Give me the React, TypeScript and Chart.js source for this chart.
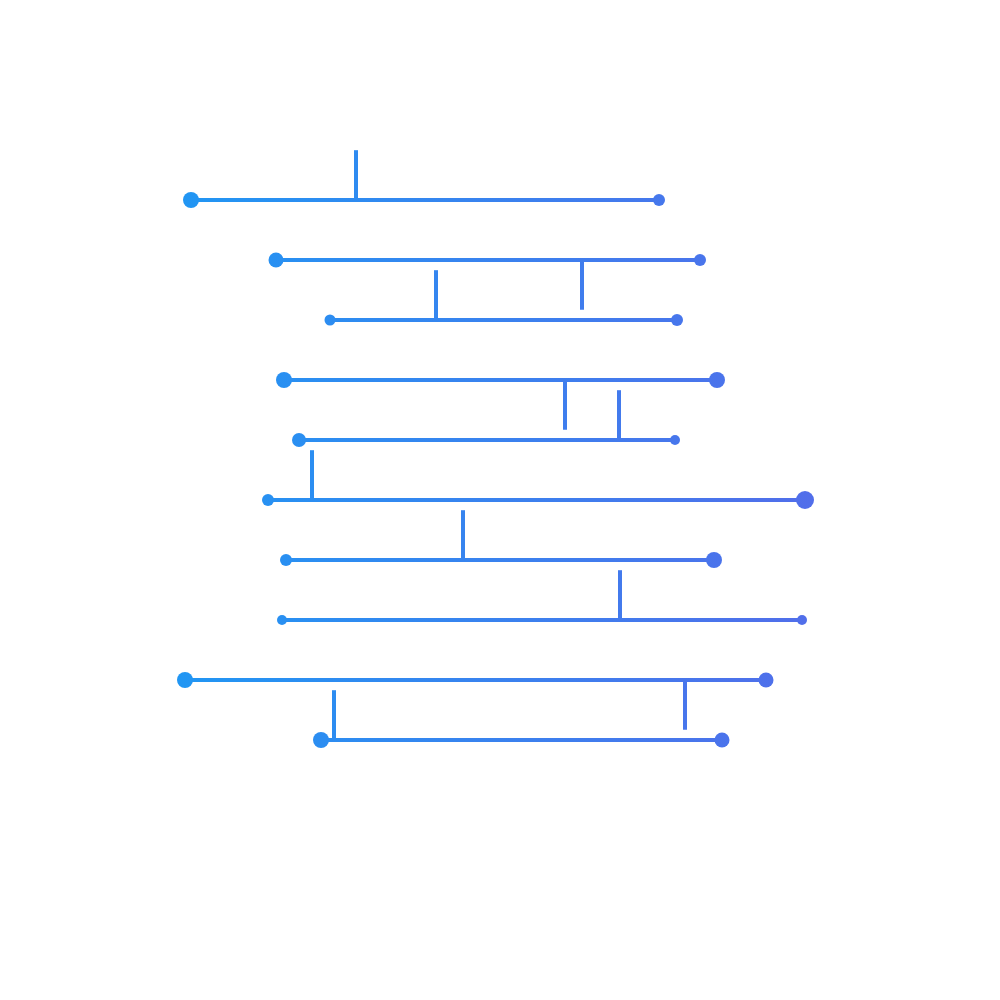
import React, { useEffect, useRef } from "react";
import Chart, { ChartConfiguration } from "chart.js/auto";

// one entry per horizontal rail, top to bottom
const rows = [1, 2, 3, 4, 5, 6, 7, 8, 9, 10];
const railStart = [19.1, 27.6, 33.0, 28.4, 29.9, 26.8, 28.6, 28.2, 18.5, 32.1];
const railEnd = [65.9, 70.0, 67.7, 71.7, 67.5, 80.5, 71.4, 80.2, 76.6, 72.2];
const startDot = [8, 7.5, 5.5, 8, 7, 6, 6, 5, 8, 8];
const endDot = [6, 6, 6, 8, 5, 9, 8, 5, 7.5, 7.5];
// vertical stub on each rail: x position and direction (1 = up, -1 = down)
const stubX = [35.6, 58.2, 43.6, 56.5, 61.9, 31.2, 46.3, 62.0, 68.5, 33.4];
const stubSide = [1, -1, 1, -1, 1, 1, 1, 1, -1, 1];
const stubLength = 0.83;

const LEFT_COLOR = "#2196F3";
const RIGHT_COLOR = "#516EEA";

const CircuitLines: React.FC = () => {
  const chartRef = useRef<HTMLCanvasElement>(null);
  const chartInstance = useRef<Chart<"scatter"> | null>(null);

  useEffect(() => {
    document.body.style.margin = "0";
    if (chartRef && chartRef.current) {
      const ctx = chartRef.current.getContext("2d");
      if (ctx) {
        if (chartInstance.current) {
          chartInstance.current.destroy();
        }

        const blueGradient = (c: any) => {
          const chart = c.chart;
          const x = chart.scales?.x;
          if (!chart.chartArea || !x) return LEFT_COLOR;
          const g = chart.ctx.createLinearGradient(
            x.getPixelForValue(18),
            0,
            x.getPixelForValue(81),
            0
          );
          g.addColorStop(0, LEFT_COLOR);
          g.addColorStop(1, RIGHT_COLOR);
          return g;
        };

        const rails = rows.map((r, i) => ({
          data: [
            { x: railStart[i], y: r },
            { x: railEnd[i], y: r },
          ],
          showLine: true,
          borderWidth: 4,
          borderColor: blueGradient,
          backgroundColor: blueGradient,
          pointBackgroundColor: blueGradient,
          pointBorderWidth: 0,
          pointRadius: [startDot[i], endDot[i]],
        }));

        const stubs = rows.map((r, i) => ({
          data: [
            { x: stubX[i], y: r },
            { x: stubX[i], y: r - stubSide[i] * stubLength },
          ],
          showLine: true,
          borderWidth: 4,
          borderCapStyle: "butt",
          borderColor: blueGradient,
          pointRadius: 0,
        }));

        chartInstance.current = new Chart(ctx, {
          type: "scatter",
          data: { datasets: [...stubs, ...rails] },
          options: {
            animation: false,
            responsive: true,
            maintainAspectRatio: false,
            events: [],
            layout: { padding: 0, autoPadding: false },
            scales: {
              x: { type: "linear", min: 0, max: 100, display: false },
              y: {
                type: "linear",
                min: -2.333,
                max: 14.333,
                reverse: true,
                display: false,
              },
            },
            plugins: {
              legend: { display: false },
              tooltip: { enabled: false },
            },
          },
        } as ChartConfiguration<"scatter">);
      }
    }

    return () => {
      if (chartInstance.current) {
        chartInstance.current.destroy();
        chartInstance.current = null;
      }
    };
  }, []);

  return (
    <div style={{ width: 1000, height: 1000, background: "#fff" }}>
      <canvas ref={chartRef} />
    </div>
  );
};

export default function App() {
  return <CircuitLines />;
}
